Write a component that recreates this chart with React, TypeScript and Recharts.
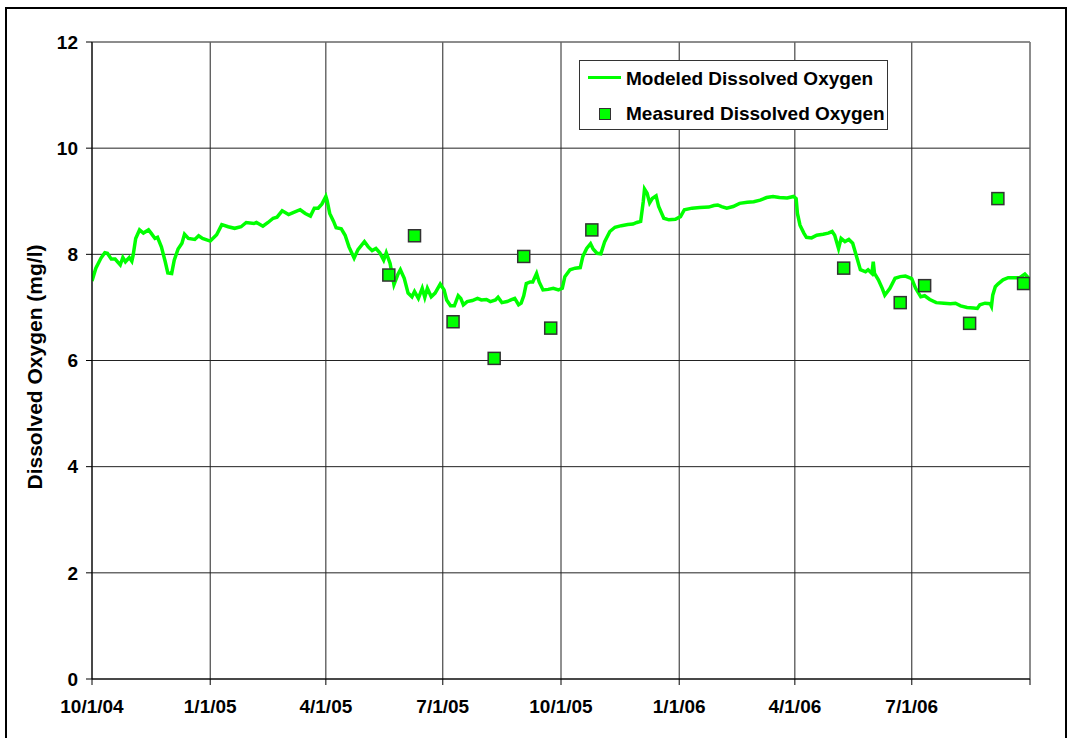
import { ComposedChart, Line, Scatter, XAxis, YAxis, CartesianGrid, ReferenceLine } from 'recharts';

// days counted from 10/1/04
const quarterDays = [0, 92, 182, 273, 365, 457, 547, 638, 730];
const quarterLabels = ['10/1/04', '1/1/05', '4/1/05', '7/1/05', '10/1/05', '1/1/06', '4/1/06', '7/1/06', ''];
const doTicks = [0, 2, 4, 6, 8, 10, 12];

const modeledDay = [
  0, 3, 7, 10, 12, 15, 18, 22, 24, 26, 29, 31, 32, 34, 37, 40, 44, 46, 49, 51, 54, 57, 59, 62, 64, 67, 70, 72, 75, 80, 83, 86, 92, 97, 101, 106, 111, 116, 120,
  126, 128, 133, 137, 141, 144, 148, 153, 157, 162, 166, 170, 173, 176, 179, 182, 183, 185, 188, 190, 194, 197, 200, 204, 207, 212, 215, 218, 221, 224, 227, 229, 232, 235, 238,
  240, 243, 246, 249, 251, 254, 257, 259, 261, 264, 267, 271, 274, 276, 279, 282, 285, 287, 289, 292, 296, 300, 303, 307, 310, 314, 316, 319, 323, 327, 329, 332, 334, 336, 338, 341, 343, 346, 348, 351, 355, 359, 363, 366, 368, 372,
  376, 380, 382, 385, 388, 390, 393, 396, 399, 403, 407, 412, 417, 421, 424, 427, 429, 430, 432, 434, 436, 439, 441, 445, 449, 454, 458, 461, 467, 473, 480, 484, 487, 490, 494, 499, 504, 510, 515, 520, 525, 530, 535, 541, 546, 548, 549, 551,
  554, 556, 560, 564, 569, 573, 576, 578, 581, 583, 586, 589, 592, 595, 598, 602, 604, 607, 608, 609, 612, 615, 617, 621, 625, 629, 633, 637, 638,
  641, 645, 648, 652, 657, 663, 668, 672, 676, 681, 686, 689, 691, 695, 699, 700, 701, 703, 705, 709, 713, 717, 722, 726, 729,
];
const modeledDO = [
  7.5, 7.74, 7.93, 8.03, 8.02, 7.91, 7.91, 7.8, 7.94, 7.86, 7.94, 7.87, 7.98, 8.3, 8.46, 8.4, 8.46, 8.4, 8.3, 8.32, 8.14, 7.86, 7.65, 7.64, 7.89, 8.1, 8.21, 8.38, 8.3, 8.28, 8.35, 8.3, 8.25, 8.37, 8.56, 8.52, 8.49, 8.52, 8.6,
  8.58, 8.6, 8.53, 8.6, 8.68, 8.7, 8.82, 8.75, 8.79, 8.84, 8.77, 8.72, 8.87, 8.87, 8.95, 9.09, 9.01, 8.77, 8.62, 8.5, 8.48, 8.36, 8.14, 7.93, 8.09, 8.24, 8.14, 8.07, 8.11, 8.03, 7.89, 8.03, 7.83, 7.43, 7.62,
  7.71, 7.55, 7.27, 7.2, 7.3, 7.17, 7.36, 7.19, 7.36, 7.2, 7.27, 7.44, 7.33, 7.14, 7.03, 7.03, 7.22, 7.17, 7.05, 7.11, 7.13, 7.17, 7.14, 7.15, 7.11, 7.14, 7.19, 7.09, 7.11, 7.15, 7.17, 7.05, 7.08, 7.22, 7.45, 7.48, 7.48, 7.64, 7.48, 7.33, 7.34, 7.36, 7.33, 7.36, 7.58, 7.71,
  7.74, 7.75, 7.96, 8.11, 8.2, 8.1, 8.02, 8.01, 8.24, 8.43, 8.51, 8.54, 8.56, 8.57, 8.6, 8.62, 8.99, 9.23, 9.15, 8.97, 9.05, 9.1, 8.9, 8.68, 8.65, 8.66, 8.71, 8.84, 8.87, 8.88, 8.89, 8.92, 8.93, 8.9, 8.87, 8.9, 8.96, 8.98, 8.99, 9.02, 9.07, 9.09, 9.07, 9.06, 9.09, 9.05, 8.77, 8.55,
  8.4, 8.32, 8.31, 8.36, 8.38, 8.4, 8.43, 8.36, 8.11, 8.3, 8.24, 8.28, 8.21, 7.96, 7.71, 7.67, 7.71, 7.64, 7.86, 7.64, 7.52, 7.36, 7.23, 7.36, 7.55, 7.58, 7.59, 7.55, 7.54,
  7.36, 7.2, 7.22, 7.15, 7.09, 7.08, 7.07, 7.08, 7.03, 7.0, 6.99, 6.98, 7.05, 7.08, 7.07, 7.02, 7.23, 7.39, 7.44, 7.52, 7.56, 7.56, 7.56, 7.63, 7.55,
];

const measuredDay = [231, 251, 281, 313, 336, 357, 389, 585, 629, 648, 683, 705, 725];
const measuredDO = [7.61, 8.35, 6.73, 6.04, 7.96, 6.61, 8.46, 7.74, 7.09, 7.41, 6.7, 9.05, 7.45];

const modeled = modeledDay.map((day, i) => ({ day, value: modeledDO[i] }));
const measured = measuredDay.map((day, i) => ({ day, value: measuredDO[i] }));

const FONT = '"Liberation Sans", Arial, sans-serif';
const GREEN = '#00ff00';

const tickStyle = { fill: '#000', fontSize: 19, fontWeight: 'bold', fontFamily: FONT };

const Square = (props: any) => {
  const { cx, cy } = props;
  return <rect x={cx - 6} y={cy - 6} width={12} height={12} fill={GREEN} stroke="#333" strokeWidth={1.5} />;
};

const YTitle = () => (
  <text
    x={42}
    y={367}
    transform="rotate(-90 42 367)"
    textAnchor="middle"
    fill="#000"
    style={{ fontSize: 21, fontWeight: 'bold', fontFamily: FONT }}
  >
    Dissolved Oxygen (mg/l)
  </text>
);

export default function App() {
  return (
    <div style={{ position: 'absolute', left: 0, top: 0, width: 1074, height: 738, background: '#fff', overflow: 'hidden' }}>
      <div style={{ position: 'absolute', left: 5, top: 7, width: 1058, height: 740, border: '2px solid #000' }} />
      <ComposedChart
        width={1074}
        height={738}
        margin={{ top: 42, right: 44, bottom: 19, left: 0 }}
        style={{ position: 'absolute', left: 0, top: 0 }}
      >
        <CartesianGrid stroke="#222" strokeWidth={1} />
        <XAxis
          type="number"
          dataKey="day"
          domain={[0, 730]}
          ticks={quarterDays}
          interval={0}
          tickFormatter={(v: number) => quarterLabels[quarterDays.indexOf(v)]}
          tick={tickStyle}
          tickSize={6}
          tickMargin={15}
          height={40}
          stroke="#000"
          allowDataOverflow
        />
        <YAxis
          type="number"
          domain={[0, 12]}
          ticks={doTicks}
          interval={0}
          tick={tickStyle}
          tickSize={6}
          tickMargin={8}
          width={92}
          stroke="#000"
          label={{ content: () => <YTitle /> }}
        />
        <ReferenceLine y={12} stroke="#888" />
        <ReferenceLine x={730} stroke="#888" />
        <Line
          data={modeled}
          dataKey="value"
          name="Modeled Dissolved Oxygen"
          type="linear"
          stroke={GREEN}
          strokeWidth={3.5}
          dot={false}
          isAnimationActive={false}
        />
        <Scatter
          data={measured}
          dataKey="value"
          name="Measured Dissolved Oxygen"
          shape={Square}
          isAnimationActive={false}
        />
      </ComposedChart>
      <div
        style={{
          position: 'absolute',
          left: 579,
          top: 60,
          width: 307,
          height: 68,
          border: '1px solid #333',
          background: '#fff',
          fontFamily: FONT,
          fontWeight: 'bold',
          fontSize: 19,
          lineHeight: '19px',
          color: '#000',
        }}
      >
        <div style={{ position: 'absolute', left: 8, top: 15, width: 33, height: 3, background: GREEN }} />
        <span style={{ position: 'absolute', left: 46, top: 8, whiteSpace: 'nowrap' }}>Modeled Dissolved Oxygen</span>
        <div style={{ position: 'absolute', left: 19, top: 47, width: 10, height: 10, background: GREEN, border: '1px solid #333' }} />
        <span style={{ position: 'absolute', left: 46, top: 43, whiteSpace: 'nowrap' }}>Measured Dissolved Oxygen</span>
      </div>
    </div>
  );
}
